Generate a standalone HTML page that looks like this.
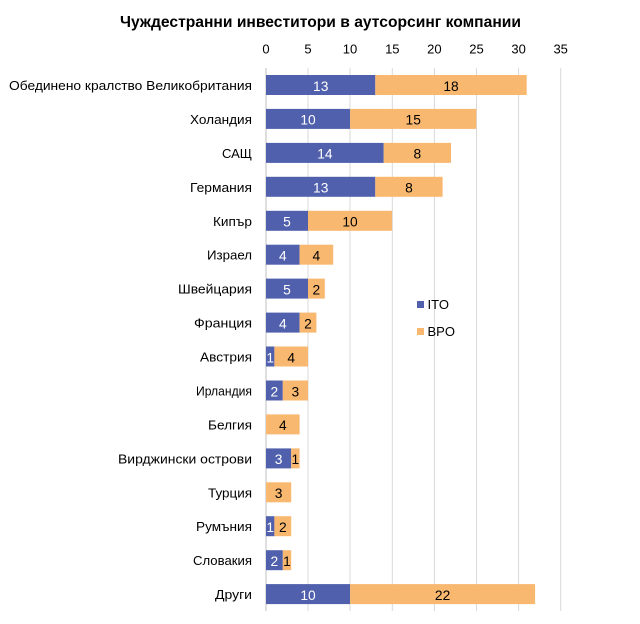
<!DOCTYPE html>
<html><head><meta charset="utf-8"><style>
html,body{margin:0;padding:0;background:#fff;}
svg{display:block;font-family:"Liberation Sans","DejaVu Sans",sans-serif;}
</style></head><body>
<svg width="640" height="624" viewBox="0 0 640 624" xmlns="http://www.w3.org/2000/svg">
<rect width="640" height="624" fill="#fff"/>
<text x="120" y="27" font-size="16" font-weight="bold" fill="#000" textLength="401" lengthAdjust="spacingAndGlyphs">Чуждестранни инвеститори в аутсорсинг компании</text>
<g font-size="13" fill="#000" text-anchor="middle">
<text x="266" y="53.5">0</text>
<text x="308" y="53.5">5</text>
<text x="350" y="53.5">10</text>
<text x="392.3" y="53.5">15</text>
<text x="434.4" y="53.5">20</text>
<text x="476.5" y="53.5">25</text>
<text x="518.6" y="53.5">30</text>
<text x="560.7" y="53.5">35</text>
</g>
<g stroke="#D9D9D9" stroke-width="1">
<line x1="308" y1="68" x2="308" y2="611"/>
<line x1="350" y1="68" x2="350" y2="611"/>
<line x1="392.3" y1="68" x2="392.3" y2="611"/>
<line x1="434.4" y1="68" x2="434.4" y2="611"/>
<line x1="476.5" y1="68" x2="476.5" y2="611"/>
<line x1="518.6" y1="68" x2="518.6" y2="611"/>
<line x1="560.7" y1="68" x2="560.7" y2="611"/>
<line x1="266" y1="68" x2="266" y2="611" stroke="#BFBFBF"/>
</g>
<g font-size="13" fill="#000" text-anchor="end">
<text x="252" y="90" textLength="243" lengthAdjust="spacingAndGlyphs">Обединено кралство Великобритания</text>
<text x="252" y="123.9" textLength="62" lengthAdjust="spacingAndGlyphs">Холандия</text>
<text x="252" y="157.9" textLength="30" lengthAdjust="spacingAndGlyphs">САЩ</text>
<text x="252" y="191.8" textLength="62" lengthAdjust="spacingAndGlyphs">Германия</text>
<text x="252" y="225.8" textLength="39" lengthAdjust="spacingAndGlyphs">Кипър</text>
<text x="252" y="259.7" textLength="45" lengthAdjust="spacingAndGlyphs">Израел</text>
<text x="252" y="293.6" textLength="74" lengthAdjust="spacingAndGlyphs">Швейцария</text>
<text x="252" y="327.6" textLength="58" lengthAdjust="spacingAndGlyphs">Франция</text>
<text x="252" y="361.5" textLength="52" lengthAdjust="spacingAndGlyphs">Австрия</text>
<text x="252" y="395.5" textLength="56" lengthAdjust="spacingAndGlyphs">Ирландия</text>
<text x="252" y="429.4" textLength="44" lengthAdjust="spacingAndGlyphs">Белгия</text>
<text x="252" y="463.4" textLength="134" lengthAdjust="spacingAndGlyphs">Вирджински острови</text>
<text x="252" y="497.3" textLength="44" lengthAdjust="spacingAndGlyphs">Турция</text>
<text x="252" y="531.2" textLength="56" lengthAdjust="spacingAndGlyphs">Румъния</text>
<text x="252" y="565.2" textLength="59" lengthAdjust="spacingAndGlyphs">Словакия</text>
<text x="252" y="599.1" textLength="37" lengthAdjust="spacingAndGlyphs">Други</text>
</g>
<g>
<rect x="266" y="75" width="109.3" height="20" fill="#5060AC"/><rect x="375.3" y="75" width="151.4" height="20" fill="#F9B870"/>
<rect x="266" y="108.9" width="84.1" height="20" fill="#5060AC"/><rect x="350.1" y="108.9" width="126.2" height="20" fill="#F9B870"/>
<rect x="266" y="142.9" width="117.7" height="20" fill="#5060AC"/><rect x="383.7" y="142.9" width="67.3" height="20" fill="#F9B870"/>
<rect x="266" y="176.8" width="109.3" height="20" fill="#5060AC"/><rect x="375.3" y="176.8" width="67.3" height="20" fill="#F9B870"/>
<rect x="266" y="210.8" width="42" height="20" fill="#5060AC"/><rect x="308" y="210.8" width="84.1" height="20" fill="#F9B870"/>
<rect x="266" y="244.7" width="33.6" height="20" fill="#5060AC"/><rect x="299.6" y="244.7" width="33.6" height="20" fill="#F9B870"/>
<rect x="266" y="278.6" width="42" height="20" fill="#5060AC"/><rect x="308" y="278.6" width="16.8" height="20" fill="#F9B870"/>
<rect x="266" y="312.6" width="33.6" height="20" fill="#5060AC"/><rect x="299.6" y="312.6" width="16.8" height="20" fill="#F9B870"/>
<rect x="266" y="346.5" width="8.4" height="20" fill="#5060AC"/><rect x="274.4" y="346.5" width="33.6" height="20" fill="#F9B870"/>
<rect x="266" y="380.5" width="16.8" height="20" fill="#5060AC"/><rect x="282.8" y="380.5" width="25.2" height="20" fill="#F9B870"/>
<rect x="266" y="414.4" width="33.6" height="20" fill="#F9B870"/>
<rect x="266" y="448.4" width="25.2" height="20" fill="#5060AC"/><rect x="291.2" y="448.4" width="8.4" height="20" fill="#F9B870"/>
<rect x="266" y="482.3" width="25.2" height="20" fill="#F9B870"/>
<rect x="266" y="516.2" width="8.4" height="20" fill="#5060AC"/><rect x="274.4" y="516.2" width="16.8" height="20" fill="#F9B870"/>
<rect x="266" y="550.2" width="16.8" height="20" fill="#5060AC"/><rect x="282.8" y="550.2" width="8.4" height="20" fill="#F9B870"/>
<rect x="266" y="584.1" width="84.1" height="20" fill="#5060AC"/><rect x="350.1" y="584.1" width="185" height="20" fill="#F9B870"/>
</g>
<g font-size="13.8" text-anchor="middle">
<text x="320.7" y="90.8" fill="#fff">13</text><text x="451" y="90.8" fill="#000">18</text>
<text x="308" y="124.7" fill="#fff">10</text><text x="413.2" y="124.7" fill="#000">15</text>
<text x="324.9" y="158.7" fill="#fff">14</text><text x="417.4" y="158.7" fill="#000">8</text>
<text x="320.7" y="192.6" fill="#fff">13</text><text x="409" y="192.6" fill="#000">8</text>
<text x="287" y="226.6" fill="#fff">5</text><text x="350" y="226.6" fill="#000">10</text>
<text x="282.8" y="260.5" fill="#fff">4</text><text x="316.4" y="260.5" fill="#000">4</text>
<text x="287" y="294.4" fill="#fff">5</text><text x="316.4" y="294.4" fill="#000">2</text>
<text x="282.8" y="328.4" fill="#fff">4</text><text x="308" y="328.4" fill="#000">2</text>
<text x="270.2" y="362.3" fill="#fff">1</text><text x="291.2" y="362.3" fill="#000">4</text>
<text x="274.4" y="396.3" fill="#fff">2</text><text x="295.4" y="396.3" fill="#000">3</text>
<text x="282.8" y="430.2" fill="#000">4</text>
<text x="278.6" y="464.2" fill="#fff">3</text><text x="295.4" y="464.2" fill="#000">1</text>
<text x="278.6" y="498.1" fill="#000">3</text>
<text x="270.2" y="532" fill="#fff">1</text><text x="282.8" y="532" fill="#000">2</text>
<text x="274.4" y="566" fill="#fff">2</text><text x="287" y="566" fill="#000">1</text>
<text x="308" y="599.9" fill="#fff">10</text><text x="442.6" y="599.9" fill="#000">22</text>
</g>
<rect x="417" y="301" width="7" height="7" fill="#5060AC"/>
<text x="427.5" y="309" font-size="13" fill="#000">ITO</text>
<rect x="417" y="328" width="7" height="7" fill="#F9B870"/>
<text x="427.5" y="336" font-size="13" fill="#000">BPO</text>
</svg>
</body></html>
